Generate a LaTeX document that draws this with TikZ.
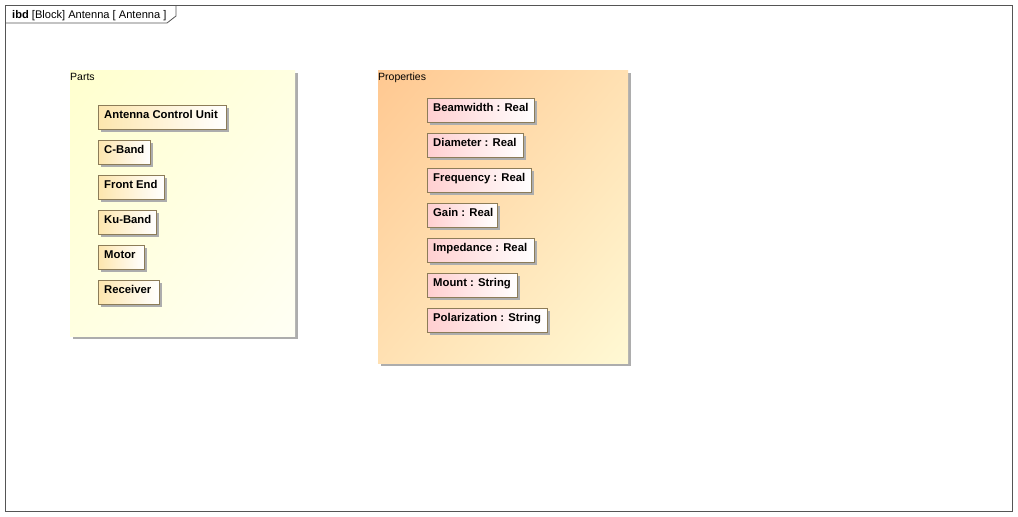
\documentclass[tikz,border=0pt]{standalone}
\usepackage{fontspec}
\setmainfont{Liberation Sans}
\usetikzlibrary{shadows,shadings}
\definecolor{frameline}{HTML}{555555}
\definecolor{boxline}{HTML}{8C7C58}
\definecolor{shadowgray}{HTML}{ADADAD}
\definecolor{partL}{HTML}{FDE6AE}
\definecolor{propL}{HTML}{FFCFD0}
\definecolor{partsUL}{HTML}{FFFFCE}
\definecolor{partsLR}{HTML}{FFFFF4}
\definecolor{propsUL}{HTML}{FFC891}
\definecolor{propsLR}{HTML}{FFF9D4}
\tikzset{
  panel/.style={anchor=north west, inner sep=0pt, draw=none,
    drop shadow={shadow xshift=3pt, shadow yshift=-3pt, fill=shadowgray, opacity=1}},
  elem/.style={anchor=north west, inner sep=0pt, draw=boxline, line width=0.8pt,
    minimum height=24pt, left color=#1, right color=white,
    drop shadow={shadow xshift=3pt, shadow yshift=-3pt, fill=shadowgray, opacity=1}},
  lbl/.style={anchor=base west, inner sep=0pt, font=\fontsize{11.3}{13}\selectfont\bfseries},
  ptitle/.style={anchor=base west, inner sep=0pt, font=\fontsize{10.5}{12}\selectfont},
  ftitle/.style={anchor=base west, inner sep=0pt, font=\fontsize{11.1}{13}\selectfont},
}
\begin{document}
\begin{tikzpicture}[x=1pt,y=-1pt]
\useasboundingbox (0,0) rectangle (1018,517);
\fill[white] (0,0) rectangle (1018,517);
% frame
\draw[frameline, line width=0.8pt] (5.5,5.5) rectangle (1012.5,511.5);
\draw[frameline, line width=0.8pt] (5.5,23) -- (167,23) -- (176,16) -- (176,5.5);
\node[ftitle] (title) at (12,18) {\textbf{ibd} [Block] Antenna [ Antenna ]};
% Parts panel
\node[panel, minimum width=225pt, minimum height=266pt,
  upper left=partsUL, lower right=partsLR, upper right=partsLR!50!partsUL, lower left=partsLR!50!partsUL] (parts) at (70,70) {};
\node[ptitle] (partsT) at ([xshift=0pt,yshift=-10pt]parts.north west) {Parts};
% Properties panel
\node[panel, minimum width=250pt, minimum height=293pt,
  upper left=propsUL, lower right=propsLR, upper right=propsLR!50!propsUL, lower left=propsLR!50!propsUL] (props) at (378,70) {};
\node[ptitle] (propsT) at ([xshift=0pt,yshift=-10pt]props.north west) {Properties};
% part elements
\foreach \n/\t/\w/\y in {acu/Antenna Control Unit/128/105, cb/C-Band/52/140, fe/Front End/66/175, ku/Ku-Band/58/210, mo/Motor/46/245, rc/Receiver/61/280}{
  \node[elem=partL, minimum width=\w pt] (\n) at (98,\y) {};
  \node[lbl] (\n T) at ([xshift=6pt,yshift=-13pt]\n.north west) {\t};
}
% property elements
\foreach \n/\t/\w/\y in {bw/Beamwidth : Real/107/98, di/Diameter : Real/96/133, fr/Frequency : Real/104/168, ga/Gain : Real/70/203, im/Impedance : Real/107/238, mt/Mount : String/90/273, po/Polarization : String/120/308}{
  \node[elem=propL, minimum width=\w pt] (\n) at (427,\y) {};
  \node[lbl] (\n T) at ([xshift=6pt,yshift=-13pt]\n.north west) {\t};
}
\end{tikzpicture}
\end{document}
